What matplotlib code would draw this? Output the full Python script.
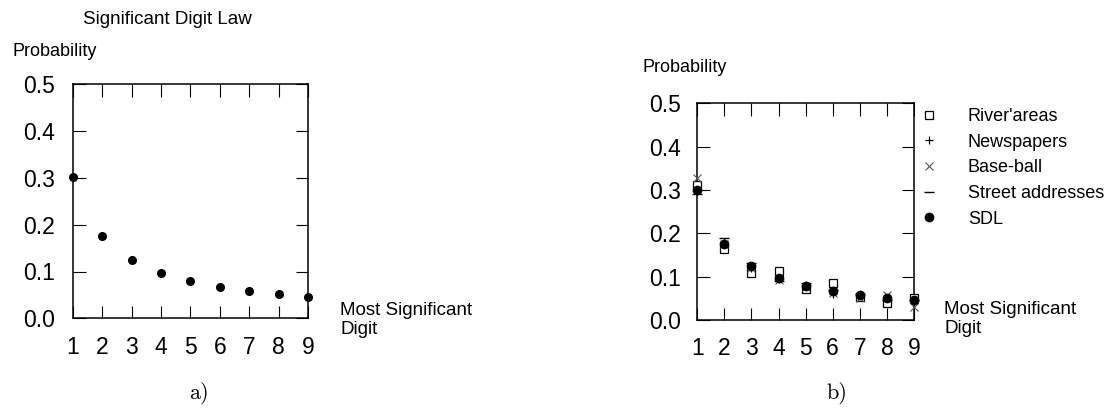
import numpy as np
import matplotlib
matplotlib.use('Agg')
import matplotlib.pyplot as plt

plt.rcParams['font.family'] = ['Liberation Sans', 'DejaVu Sans']

W = 1104.
H = 408.

def fx(x):
    return x / W

def fy(y):
    return 1 - y / H

# first digit probabilities
digits = [1, 2, 3, 4, 5, 6, 7, 8, 9]
sdl = [0.301, 0.176, 0.125, 0.097, 0.079, 0.067, 0.058, 0.051, 0.046]
rivers = [0.311, 0.163, 0.108, 0.114, 0.071, 0.085, 0.052, 0.040, 0.051]
newspapers = [0.300, 0.180, 0.120, 0.095, 0.080, 0.060, 0.058, 0.050, 0.040]
baseball = [0.327, 0.175, 0.120, 0.093, 0.075, 0.062, 0.050, 0.057, 0.030]
streets = [0.290, 0.190, 0.132, 0.090, 0.085, 0.070, 0.060, 0.045, 0.045]

yticks = [0.0, 0.1, 0.2, 0.3, 0.4, 0.5]
ytick_labels = ['0.0', '0.1', '0.2', '0.3', '0.4', '0.5']

fig = plt.figure(figsize=(W / 100, H / 100), dpi=100)

def setup(ax, xpad, ypad):
    ax.set_xlim(1, 9)
    ax.set_ylim(0, 0.5)
    ax.set_xticks(digits)
    ax.set_yticks(yticks)
    ax.set_yticklabels(ytick_labels)
    ax.tick_params(direction='in', length=9, width=0.8, top=True, right=True,
                   labelsize=16.5)
    ax.tick_params(axis='x', pad=xpad)
    ax.tick_params(axis='y', pad=ypad)
    for s in ax.spines.values():
        s.set_linewidth(1.1)

# a) significant digit law alone
ax1 = fig.add_axes([fx(72.7), fy(318.3), fx(308 - 72.7), (318.3 - 84.3) / H])
setup(ax1, 13, 13)
ax1.plot(digits, sdl, 'o', color='black', ms=5.5, clip_on=False, zorder=5)

fig.text(fx(83), fy(19), 'Significant Digit Law', fontsize=13.5, va='center', ha='left')
fig.text(fx(12), fy(52), 'Probability', fontsize=13, va='center', ha='left')
fig.text(fx(340), fy(320), 'Most Significant\nDigit', fontsize=13.5, va='center',
         ha='left', linespacing=1.1)
fig.text(fx(199), fy(393), 'a)', fontsize=16, family='cmr10', ha='center', va='center')

# b) data sets against the law
ax2 = fig.add_axes([fx(697.3), fy(320), fx(914 - 697.3), (320 - 103.3) / H])
setup(ax2, 12, 12)
ax2.plot(digits, rivers, 's', mfc='white', mec='black', mew=0.9, ms=5.5,
         clip_on=False, zorder=4, label="River'areas")
ax2.plot(digits, newspapers, '+', color='black', mew=0.9, ms=6,
         clip_on=False, zorder=4, label='Newspapers')
ax2.plot(digits, baseball, 'x', color='#555555', mew=0.8, ms=6,
         clip_on=False, zorder=4, label='Base-ball')
ax2.plot(digits, streets, '_', color='black', mew=1.0, ms=7,
         clip_on=False, zorder=4, label='Street addresses')
ax2.plot(digits, sdl, 'o', color='black', ms=6, clip_on=False, zorder=5,
         label='SDL')

ax2.legend(loc='upper left', bbox_to_anchor=(fx(921), fy(108)),
           bbox_transform=fig.transFigure, frameon=False, fontsize=13,
           handlelength=0.9, handletextpad=1.7, labelspacing=0.48,
           borderpad=0, borderaxespad=0, markerscale=1.0)

fig.text(fx(643), fy(67), 'Probability', fontsize=13, va='center', ha='left')
fig.text(fx(944), fy(319), 'Most Significant\nDigit', fontsize=13.5, va='center',
         ha='left', linespacing=1.1)
fig.text(fx(837), fy(393), 'b)', fontsize=16, family='cmr10', ha='center', va='center')

fig.savefig('out.png', dpi=100)
